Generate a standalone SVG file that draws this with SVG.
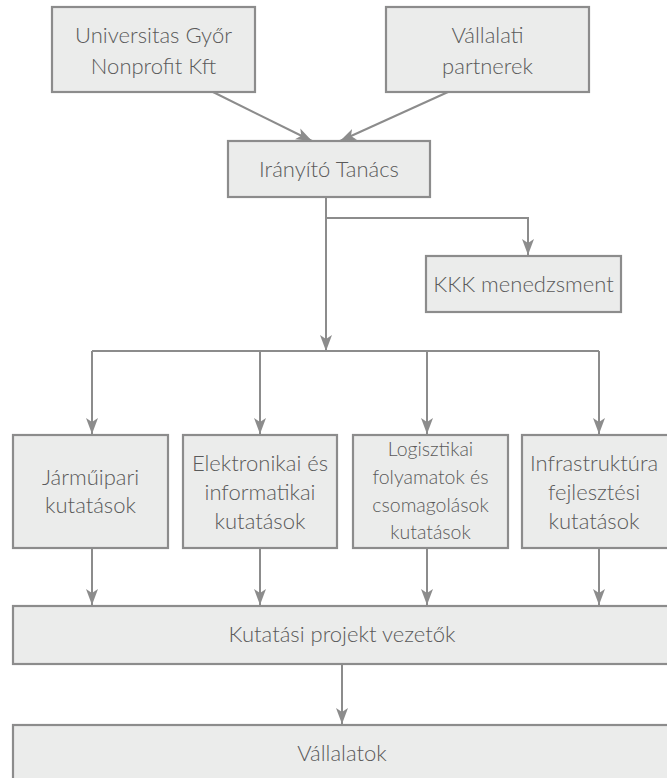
<svg xmlns="http://www.w3.org/2000/svg" width="667" height="778" viewBox="0 0 667 778">
<defs>
<style>
.box{fill:#ebeceb;stroke:#8c8c8c;stroke-width:2.2}
.t{font-family:Lato,"Liberation Sans",sans-serif;font-weight:300;font-size:22px;fill:#5a5a5a;text-anchor:middle}
.s{font-size:19.5px}
.c{fill:none;stroke:#8c8c8c;stroke-width:2}
</style>
<marker id="ah" markerUnits="userSpaceOnUse" markerWidth="18" markerHeight="14" refX="16" refY="6.5" orient="auto" viewBox="0 0 18 14">
<path d="M0,0.5 L16,6.5 L0,12.5 L4,6.5 Z" fill="#8c8c8c"/>
</marker>
</defs>
<rect width="667" height="778" fill="#fff"/>
<g id="n-universitas"><rect class="box" x="52" y="7" width="203" height="85"/><text class="t" x="153.5" y="43">Universitas Győr</text><text class="t" x="153.5" y="74">Nonprofit Kft</text></g>
<g id="n-partnerek"><rect class="box" x="386" y="7" width="203" height="85"/><text class="t" x="487.5" y="43">Vállalati</text><text class="t" x="487.5" y="74">partnerek</text></g>
<g id="n-tanacs"><rect class="box" x="228" y="141" width="202" height="56"/><text class="t" x="329" y="177">Irányító Tanács</text></g>
<g id="n-kkk"><rect class="box" x="426" y="256" width="195" height="56"/><text class="t" x="523.5" y="292">KKK menedzsment</text></g>
<g id="n-jarmu"><rect class="box" x="13" y="435" width="155" height="113"/><text class="t" x="90.5" y="485">Járműipari</text><text class="t" x="90.5" y="513">kutatások</text></g>
<g id="n-elektro"><rect class="box" x="183" y="435" width="154" height="113"/><text class="t" x="260" y="471">Elektronikai és</text><text class="t" x="260" y="500">informatikai</text><text class="t" x="260" y="529">kutatások</text></g>
<g id="n-logiszt"><rect class="box" x="353" y="435" width="155" height="113"/><text class="t s" x="430.5" y="456">Logisztikai</text><text class="t s" x="430.5" y="484">folyamatok és</text><text class="t s" x="430.5" y="512">csomagolások</text><text class="t s" x="430.5" y="539">kutatások</text></g>
<g id="n-infra"><rect class="box" x="522" y="435" width="160" height="113"/><text class="t" x="594" y="471">Infrastruktúra</text><text class="t" x="594" y="500">fejlesztési</text><text class="t" x="594" y="529">kutatások</text></g>
<g id="n-vezetok"><rect class="box" x="13" y="606" width="670" height="58"/><text class="t" x="342" y="642">Kutatási projekt vezetők</text></g>
<g id="n-vallalatok"><rect class="box" x="13" y="725" width="670" height="70"/><text class="t" x="342" y="761">Vállalatok</text></g>
<g id="connectors">
<path class="c" d="M213,92 L312,141" marker-end="url(#ah)"/>
<path class="c" d="M448,92 L340,141" marker-end="url(#ah)"/>
<path class="c" d="M326,197 L326,351" marker-end="url(#ah)"/>
<path class="c" d="M326,218 L528,218 L528,255" marker-end="url(#ah)"/>
<path class="c" d="M92,351 L599,351"/>
<path class="c" d="M92,351 L92,434" marker-end="url(#ah)"/>
<path class="c" d="M260,351 L260,434" marker-end="url(#ah)"/>
<path class="c" d="M427,351 L427,434" marker-end="url(#ah)"/>
<path class="c" d="M599,351 L599,434" marker-end="url(#ah)"/>
<path class="c" d="M92,548 L92,605" marker-end="url(#ah)"/>
<path class="c" d="M260,548 L260,605" marker-end="url(#ah)"/>
<path class="c" d="M427,548 L427,605" marker-end="url(#ah)"/>
<path class="c" d="M599,548 L599,605" marker-end="url(#ah)"/>
<path class="c" d="M342,664 L342,724" marker-end="url(#ah)"/>
</g>
</svg>
